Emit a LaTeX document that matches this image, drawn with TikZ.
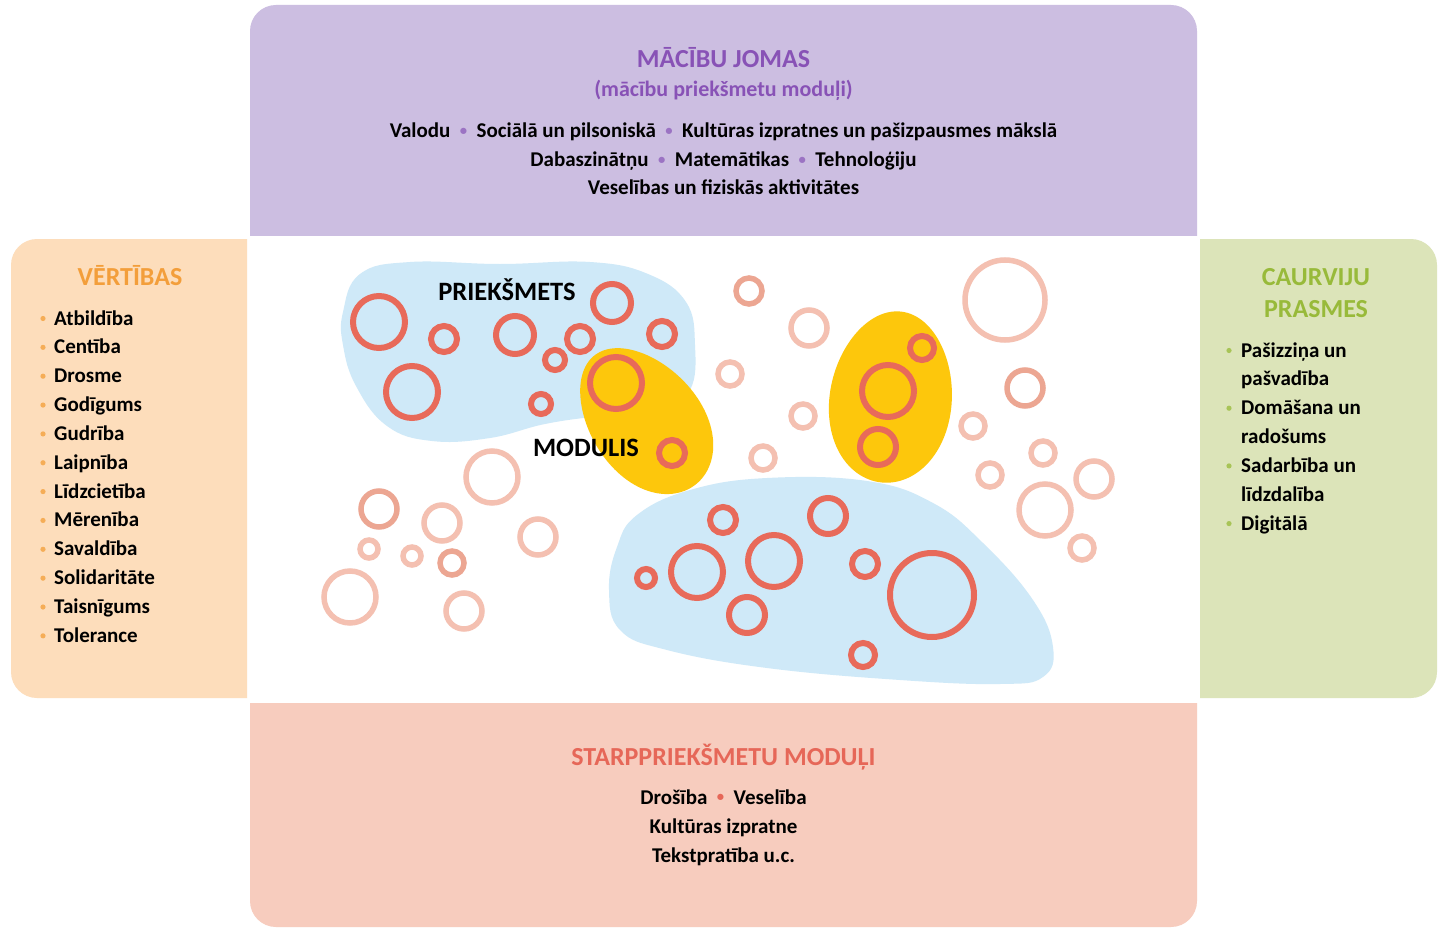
\documentclass[tikz,border=0pt]{standalone}
\usepackage{fontspec}
\setmainfont{Carlito}
\definecolor{topbg}{RGB}{204,190,225}
\definecolor{leftbg}{RGB}{253,221,187}
\definecolor{rightbg}{RGB}{220,228,185}
\definecolor{botbg}{RGB}{247,204,190}
\definecolor{tpurple}{RGB}{136,82,182}
\definecolor{bpurple}{RGB}{155,115,195}
\definecolor{torange}{RGB}{243,158,58}
\definecolor{tgreen}{RGB}{152,186,58}
\definecolor{tred}{RGB}{230,103,88}
\definecolor{ringdark}{RGB}{232,106,90}
\definecolor{ringlight}{RGB}{244,192,177}
\definecolor{ringmid}{RGB}{236,166,146}
\definecolor{blueblob}{RGB}{207,233,248}
\definecolor{yel}{RGB}{253,199,12}
\tikzset{
  dring/.style={draw=ringdark, line width=6pt},
  lring/.style={draw=ringlight, line width=5.5pt},
  mring/.style={draw=ringmid, line width=5.5pt},
  ttl/.style={font=\fontsize{26}{30}\selectfont\bfseries, anchor=base, inner sep=0pt},
  sub/.style={font=\fontsize{22}{26}\selectfont\bfseries, anchor=base, inner sep=0pt},
  body/.style={font=\fontsize{21}{25}\selectfont\bfseries, anchor=base, inner sep=0pt},
  itm/.style={font=\fontsize{21}{25}\selectfont\bfseries, anchor=base west, inner sep=0pt},
  lbl/.style={font=\fontsize{26.5}{30}\selectfont\bfseries, anchor=base, inner sep=0pt},
}
\newcommand{\dotsep}[1]{\hspace{0.45em}\textcolor{#1}{\raisebox{0.1em}{\scalebox{0.7}{•}}}\hspace{0.45em}}
\begin{document}
\begin{tikzpicture}[x=1pt,y=-1pt]
\useasboundingbox (0,0) rectangle (1439,928);
\fill[white] (0,0) rectangle (1439,928);
% panels
\begin{scope}
\clip (250,0) rectangle (1197,235);
\fill[topbg, rounded corners=26pt] (250,5) rectangle (1197,300);
\end{scope}
\begin{scope}
\clip (250,703) rectangle (1197,928);
\fill[botbg, rounded corners=26pt] (250,640) rectangle (1197,927);
\end{scope}
\begin{scope}
\clip (0,239) rectangle (247,698);
\fill[leftbg, rounded corners=26pt] (11,239) rectangle (320,698);
\end{scope}
\begin{scope}
\clip (1200,239) rectangle (1439,698);
\fill[rightbg, rounded corners=26pt] (1130,239) rectangle (1437,698);
\end{scope}
% blobs
\fill[blueblob] plot[smooth cycle, tension=0.7] coordinates {(343,312) (360,274) (410,262) (500,264) (590,262) (648,274) (686,302) (695,345) (690,390) (660,410) (600,416) (545,424) (490,438) (432,441) (387,426) (356,386) (343,345)};
\fill[blueblob] plot[smooth cycle, tension=0.7] coordinates {(609,590) (617,547) (637,515) (690,490) (767,478) (867,481) (933,503) (983,543) (1033,600) (1053,647) (1043,677) (1000,684) (900,680) (767,668) (667,650) (620,630)};
\fill[yel] plot[domain=0:360, samples=120, variable=\s] ({645 + 82*cos(\s)*cos(52) - 55*sin(\s)*(1+0.08*cos(\s))*sin(52)}, {420 + 82*cos(\s)*sin(52) + 55*sin(\s)*(1+0.08*cos(\s))*cos(52)}) -- cycle;
\fill[yel] plot[domain=0:360, samples=120, variable=\s] ({891 + 86*cos(\s)*cos(-83) - 61*sin(\s)*(1-0.06*cos(\s))*sin(-83)}, {397 + 86*cos(\s)*sin(-83) + 61*sin(\s)*(1-0.06*cos(\s))*cos(-83)}) -- cycle;
% rings
\foreach \cx/\cy/\r in {809/328/18, 730/374/12, 803/416/12, 763/458/12, 1005/300/40, 973/426/12, 1043/453/12, 990/475/12, 1094/479/18, 1045/510/26, 1082/548/12, 492/477/26, 442/523/18, 538/537/18, 369/549/9, 412/556/9, 350/597/26, 464/611/18}
  \draw[lring] (\cx,\cy) circle[radius=\r pt];
\foreach \cx/\cy/\r in {749/291/13, 1025/388/18, 379/509/18, 452/563/12}
  \draw[mring] (\cx,\cy) circle[radius=\r pt];
\foreach \cx/\cy/\r in {379/322/26, 444/339/13, 515/335/19, 580/339/13, 555/360/10, 612/303/19, 662/334/13, 412/392/26, 541/404/10, 616/383/26, 672/453/13, 922/348/12, 888/391/26, 878/447/18, 723/520/13, 828/516/18, 646/578/9, 697/572/26, 774/561/26, 865/564/13, 747/615/18, 932/595/42, 863/655/12}
  \draw[dring] (\cx,\cy) circle[radius=\r pt];
% centre labels
\node[lbl] (priek) at (507,300) {PRIEKŠMETS};
\node[lbl] (modul) at (586,456) {MODULIS};
% top panel
\node[ttl, text=tpurple] (ttop) at (723.5,68) {MĀCĪBU JOMAS};
\node[sub, text=tpurple] (tsub) at (723.5,97) {(mācību priekšmetu moduļi)};
\node[body] (tl1) at (723.5,138) {Valodu\dotsep{bpurple}Sociālā un pilsoniskā\dotsep{bpurple}Kultūras izpratnes un pašizpausmes mākslā};
\node[body] (tl2) at (723.5,166.5) {Dabaszinātņu\dotsep{bpurple}Matemātikas\dotsep{bpurple}Tehnoloģiju};
\node[body] (tl3) at (723.5,194.5) {Veselības un fiziskās aktivitātes};
% bottom panel
\node[ttl, text=tred] (tbot) at (723.5,765) {STARPPRIEKŠMETU MODUĻI};
\node[body] (bl1) at (723.5,804) {Drošība\dotsep{tred}Veselība};
\node[body] (bl2) at (723.5,833) {Kultūras izpratne};
\node[body] (bl3) at (723.5,862) {Tekstpratība u.c.};
% left panel
\node[ttl, text=torange] (tleft) at (130,285) {VĒRTĪBAS};
\foreach \t [count=\i from 0] in {Atbildība, Centība, Drosme, Godīgums, Gudrība, Laipnība, Līdzcietība, Mērenība, Savaldība, Solidaritāte, Taisnīgums, Tolerance} {
  \node[itm] (v\i) at (54,{325+28.85*\i}) {\t};
  \fill[torange!85!white] (43,{318.5+28.85*\i}) circle[radius=2.6pt];
}
% right panel
\node[ttl, text=tgreen] (tright1) at (1316,285) {CAURVIJU};
\node[ttl, text=tgreen] (tright2) at (1316,317) {PRASMES};
\foreach \t [count=\i from 0] in {Pašizziņa un, pašvadība, Domāšana un, radošums, Sadarbība un, līdzdalība, Digitālā}
  \node[itm] (c\i) at (1241,{357+28.85*\i}) {\t};
\foreach \i in {0,2,4,6}
  \fill[tgreen!85!white] (1229,{350.5+28.85*\i}) circle[radius=2.6pt];
\end{tikzpicture}
\end{document}
